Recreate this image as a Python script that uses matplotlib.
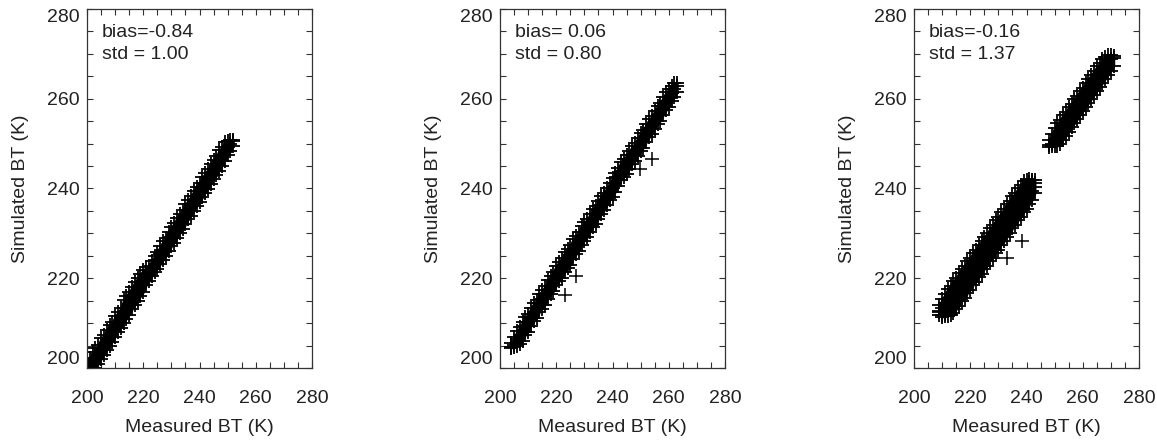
import matplotlib
matplotlib.use("Agg")
import matplotlib.pyplot as plt
from matplotlib.ticker import MultipleLocator

plt.rcParams['font.family'] = ['Liberation Sans', 'DejaVu Sans']

# ---------------- data ----------------
# Panel 1: measured BT grid and simulated BT at upper / middle / lower part of the cloud
p1_meas = [197, 198, 199, 200, 201, 202, 203, 204, 205, 206, 207, 208, 209, 210,
           211, 212, 213, 214, 215, 216, 217, 218, 219, 220, 221, 222, 223, 224,
           225, 226, 227, 228, 229, 230, 231, 232, 233, 234, 235, 236, 237, 238,
           239, 240, 241, 242, 243, 244, 245, 246, 247, 248, 249, 250, 251, 252]
p1_sim_hi = [198.6, 199.5, 200.3, 201.6, 202.3, 203.5, 204.5, 205.2, 206.6, 207.3,
             208.4, 209.5, 210.2, 211.5, 212.4, 213.3, 215.1, 216.1, 217.0, 218.0,
             219.2, 220.0, 221.0, 221.8, 222.4, 222.8, 223.9, 224.9, 225.9, 227.1,
             228.2, 229.0, 230.4, 231.4, 232.3, 233.5, 234.4, 235.3, 236.5, 237.4,
             238.3, 239.5, 240.4, 241.3, 242.5, 243.4, 244.3, 245.5, 246.4, 247.3,
             248.5, 249.3, 250.3, 250.6, 250.8, 250.9]
p1_sim_mid = [196.3, 197.1, 198.2, 199.3, 200.1, 201.2, 202.3, 203.1, 204.2, 205.1,
              206.3, 207.2, 208.1, 209.2, 210.3, 211.1, 212.3, 213.4, 214.2, 215.3,
              216.4, 217.2, 218.3, 219.1, 220.2, 221.0, 222.1, 223.2, 224.1, 225.3,
              226.2, 227.1, 228.2, 229.3, 230.1, 231.2, 232.3, 233.1, 234.2, 235.3,
              236.1, 237.2, 238.3, 239.1, 240.2, 241.3, 242.1, 243.2, 244.3, 245.1,
              246.2, 247.3, 248.1, 249.2, 250.0, 250.6]
p1_sim_lo = [194.1, 194.9, 196.0, 197.0, 197.9, 199.0, 200.0, 200.9, 202.0, 202.9,
             204.0, 205.0, 205.9, 207.0, 208.1, 208.9, 210.0, 211.0, 211.9, 213.1,
             214.1, 214.9, 216.0, 216.9, 218.4, 219.3, 220.4, 221.4, 222.1, 223.1,
             224.0, 224.9, 226.0, 227.1, 227.9, 229.0, 230.1, 230.9, 232.0, 233.1,
             233.9, 235.0, 236.1, 236.9, 238.0, 239.1, 239.9, 241.0, 242.1, 242.9,
             244.0, 245.1, 246.2, 247.4, 248.4, 249.5]

# Panel 2
p2_meas = [204, 205, 206, 207, 208, 209, 210, 211, 212, 213, 214, 215, 216, 217,
           218, 219, 220, 221, 222, 223, 224, 225, 226, 227, 228, 229, 230, 231,
           232, 233, 234, 235, 236, 237, 238, 239, 240, 241, 242, 243, 244, 245,
           246, 247, 248, 249, 250, 251, 252, 253, 254, 255, 256, 257, 258, 259,
           260, 261, 262, 263]
p2_sim_hi = [205.6, 206.8, 208.2, 209.1, 210.2, 211.3, 212.1, 213.4, 214.4, 215.1,
             216.5, 217.3, 218.2, 219.5, 220.6, 221.5, 222.8, 223.7, 224.6, 225.8,
             226.6, 227.4, 228.7, 229.5, 230.3, 231.6, 232.5, 233.1, 234.3, 235.4,
             236.1, 237.3, 238.4, 239.1, 240.2, 241.3, 242.3, 243.5, 244.6, 245.9,
             246.5, 247.4, 248.3, 249.4, 250.1, 251.3, 252.4, 253.1, 254.3, 255.4,
             256.1, 257.3, 258.4, 259.1, 260.3, 261.4, 262.1, 262.9, 263.4, 263.5]
p2_sim_mid = [204.6, 205.2, 206.4, 207.3, 208.1, 209.4, 210.2, 211.3, 212.5, 213.2,
              214.4, 215.3, 216.1, 217.4, 218.3, 219.2, 220.5, 221.3, 222.2, 223.4,
              224.3, 225.1, 226.4, 227.3, 228.2, 229.5, 230.4, 231.2, 232.3, 233.4,
              234.2, 235.3, 236.4, 237.2, 238.3, 239.4, 240.2, 241.3, 242.6, 243.9,
              244.6, 245.4, 246.3, 247.4, 248.2, 249.3, 250.4, 251.2, 252.3, 253.4,
              254.2, 255.3, 256.4, 257.2, 258.3, 259.4, 260.2, 261.3, 262.2, 262.8]
p2_sim_lo = [204.5, 204.7, 204.9, 205.3, 206.1, 207.4, 208.1, 209.4, 210.4, 211.1,
             212.5, 213.2, 214.1, 215.4, 216.4, 217.1, 218.4, 219.3, 220.1, 221.4,
             222.3, 223.0, 224.4, 225.3, 226.1, 227.5, 228.4, 229.1, 230.3, 231.4,
             232.1, 233.3, 234.4, 235.1, 236.3, 237.4, 238.1, 239.3, 240.6, 241.9,
             242.6, 243.3, 244.3, 245.4, 246.1, 247.3, 248.4, 249.1, 250.3, 251.4,
             252.1, 253.3, 254.4, 255.1, 256.3, 257.4, 258.1, 259.4, 260.5, 261.6]
p2_out_meas = [223.0, 227.1, 249.7, 253.9]
p2_out_sim = [216.3, 220.4, 244.3, 246.5]

# Panel 3, cold cluster
p3a_meas = [209, 210, 211, 212, 213, 214, 215, 216, 217, 218, 219, 220, 221, 222,
            223, 224, 225, 226, 227, 228, 229, 230, 231, 232, 233, 234, 235, 236,
            237, 238, 239, 240, 241, 242, 243]
p3a_sim_top = [214.0, 215.3, 216.4, 217.6, 218.3, 219.4, 220.1, 221.2, 222.1, 222.8,
               223.9, 224.6, 225.7, 226.4, 227.5, 228.2, 229.3, 230.0, 231.1, 231.8,
               232.9, 233.6, 234.7, 235.4, 236.5, 237.2, 238.3, 239.0, 240.1, 240.8,
               241.6, 242.0, 242.2, 242.0, 241.8]
p3a_sim_up = [212.6, 213.3, 214.4, 215.1, 216.2, 216.9, 218.0, 218.7, 219.8, 220.5,
              221.6, 222.3, 223.4, 224.1, 225.2, 225.9, 227.0, 227.7, 228.8, 229.5,
              230.6, 231.3, 232.4, 233.1, 234.2, 234.9, 236.0, 236.7, 237.8, 238.5,
              239.6, 240.3, 241.4, 241.9, 241.2]
p3a_sim_dn = [211.8, 211.7, 212.0, 212.6, 213.4, 214.3, 215.4, 216.1, 217.2, 217.9,
              219.0, 219.7, 220.8, 221.5, 222.6, 223.3, 224.4, 225.1, 226.2, 226.9,
              228.0, 228.7, 229.8, 230.5, 231.6, 232.3, 233.4, 234.1, 235.2, 235.9,
              237.0, 237.7, 238.8, 239.5, 240.4]
p3a_sim_bot = [212.5, 211.4, 211.6, 211.6, 211.8, 212.2, 213.1, 213.8, 214.9, 215.6,
               216.7, 217.4, 218.5, 219.2, 220.3, 221.0, 222.1, 222.8, 223.9, 224.6,
               225.7, 226.4, 227.5, 228.2, 229.3, 230.0, 231.1, 231.8, 232.9, 233.6,
               234.7, 235.4, 236.5, 237.5, 239.0]
# Panel 3, warm cluster
p3b_meas = [248, 249, 250, 251, 252, 253, 254, 255, 256, 257, 258, 259, 260, 261,
            262, 263, 264, 265, 266, 267, 268, 269, 270, 271]
p3b_sim_up = [250.8, 252.2, 253.5, 254.6, 255.3, 256.4, 257.1, 258.2, 258.9, 260.0,
              260.7, 261.8, 262.5, 263.6, 264.3, 265.4, 266.1, 267.2, 267.9, 268.8,
              269.4, 269.7, 269.7, 269.6]
p3b_sim_mid = [249.3, 250.0, 250.8, 251.9, 252.6, 253.7, 254.4, 255.5, 256.2, 257.3,
               258.0, 259.1, 259.8, 260.9, 261.6, 262.7, 263.4, 264.5, 265.2, 266.3,
               267.0, 268.1, 268.8, 269.0]
p3b_sim_dn = [249.6, 249.4, 249.4, 249.5, 250.0, 250.9, 251.8, 252.7, 253.6, 254.5,
              255.4, 256.3, 257.2, 258.1, 259.0, 259.9, 260.8, 261.7, 262.6, 263.5,
              264.4, 265.3, 266.2, 267.3]
p3_out_meas = [238.3, 233.0]
p3_out_sim = [228.2, 224.5]

bias_labels = ["bias=-0.84", "bias= 0.06", "bias=-0.16"]
std_labels = ["std = 1.00", "std = 0.80", "std = 1.37"]
tick_values = [200, 220, 240, 260, 280]

# point groups per panel and the (meas, lower, upper) extent of each dense cloud
panels = [
    [(p1_meas, p1_sim_hi), (p1_meas, p1_sim_mid), (p1_meas, p1_sim_lo)],
    [(p2_meas, p2_sim_hi), (p2_meas, p2_sim_mid), (p2_meas, p2_sim_lo)],
    [(p3a_meas, p3a_sim_top), (p3a_meas, p3a_sim_up), (p3a_meas, p3a_sim_dn),
     (p3a_meas, p3a_sim_bot), (p3b_meas, p3b_sim_up), (p3b_meas, p3b_sim_mid),
     (p3b_meas, p3b_sim_dn)],
]
clouds = [
    [(p1_meas, p1_sim_lo, p1_sim_hi)],
    [(p2_meas, p2_sim_lo, p2_sim_hi)],
    [(p3a_meas, p3a_sim_bot, p3a_sim_top), (p3b_meas, p3b_sim_dn, p3b_sim_up)],
]
outliers = [None, (p2_out_meas, p2_out_sim), (p3_out_meas, p3_out_sim)]

# ---------------- figure ----------------
W, H = 1157, 440
fig = plt.figure(figsize=(W / 100, H / 100), dpi=100)
lefts = [87, 500, 914]
txt = '#222222'

for i, left in enumerate(lefts):
    ax = fig.add_axes([left / W, 72 / H, 225 / W, 359 / H])
    for xs, lo, hi in clouds[i]:
        ax.fill_between(xs, lo, hi, color='black', lw=1.5, edgecolor='black')
    for xs, ys in panels[i]:
        ax.plot(xs, ys, ls='none', marker='+', ms=10, mew=1.3, color='black')
    if outliers[i] is not None:
        ax.plot(outliers[i][0], outliers[i][1], ls='none', marker='+', ms=10,
                mew=1.1, color='black')
    ax.set_xlim(200, 280)
    ax.set_ylim(200, 280)
    ax.set_xticks(tick_values)
    ax.set_yticks(tick_values)
    ax.xaxis.set_minor_locator(MultipleLocator(5))
    ax.yaxis.set_minor_locator(MultipleLocator(5))
    ax.tick_params(which='both', direction='in', top=True, right=True,
                   length=4, width=0.8, color='#333333')
    ax.tick_params(axis='x', which='major', labelsize=14, pad=16, labelcolor=txt)
    ax.tick_params(axis='y', which='major', labelsize=14, pad=5, labelcolor=txt)
    for s in ax.spines.values():
        s.set_linewidth(0.9)
        s.set_color('#333333')
    ylabs = ax.get_yticklabels()
    ylabs[0].set_va('bottom')
    ylabs[-1].set_va('top')
    ax.set_xlabel('Measured BT (K)', fontsize=14, color=txt, labelpad=8.5)
    ax.set_ylabel('Simulated BT (K)', fontsize=14, color=txt, labelpad=13)
    ax.text(0.067, 0.923, bias_labels[i], transform=ax.transAxes, fontsize=14,
            color=txt, va='baseline', ha='left')
    ax.text(0.067, 0.860, std_labels[i], transform=ax.transAxes, fontsize=14,
            color=txt, va='baseline', ha='left')

fig.savefig('out.png', dpi=100)
